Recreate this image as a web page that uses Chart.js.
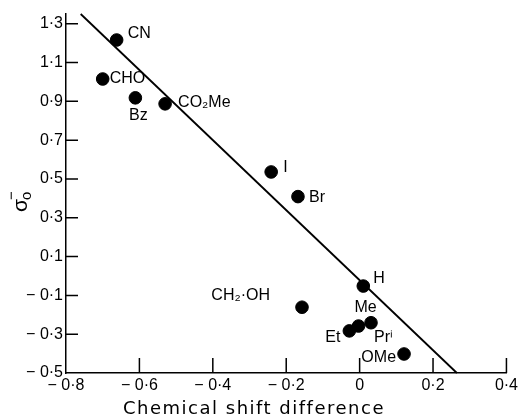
<!DOCTYPE html>
<html>
<head>
<meta charset="utf-8">
<script src="https://cdn.jsdelivr.net/npm/chart.js@4"></script>
<style>
  html, body { margin: 0; padding: 0; background: #fff; }
  #wrap { width: 521px; height: 420px; }
</style>
</head>
<body>
<div id="wrap"><canvas id="sigmaChart"></canvas></div>
<script>
// substituents and measured values
const names = ['CN', 'CHO', 'Bz', 'CO₂Me', 'I', 'Br', 'H', 'CH₂·OH', 'Me', 'Et', 'Prⁱ', 'OMe'];
const shiftDiff = [-0.662, -0.70, -0.611, -0.530, -0.241, -0.168, 0.010, -0.157, -0.003, -0.028, 0.031, 0.121];
const sigmaVals = [1.216, 1.015, 0.918, 0.887, 0.536, 0.409, -0.052, -0.161, -0.258, -0.283, -0.241, -0.402];

// fitted line end points
const fitX = [-0.76, 0.265];
const fitY = [1.35, -0.5];

// axis ticks
const xTicks = [-0.8, -0.6, -0.4, -0.2, 0, 0.2, 0.4];
const yTicks = [-0.5, -0.3, -0.1, 0.1, 0.3, 0.5, 0.7, 0.9, 1.1, 1.3];

// label placement relative to each dot (px): dx, dy, align
const labelPos = [
    [11, -6, 'left'], [7, 0, 'left'], [3, 18, 'center'], [13, -1, 'left'],
    [12, -4, 'left'], [11, 1, 'left'], [10, -7, 'left'], [-32, -12, 'right'],
    [7, -18, 'center'], [-9, 7, 'right'], [3, 15, 'left'], [-8, 4, 'right']
];

function fmt(v) {
    if (v === 0) return '0';
    const s = Math.abs(v).toFixed(1).replace('.', '·');
    return v < 0 ? '− ' + s : s;
}

const extras = {
    id: 'extras',
    afterDraw(chart) {
        const ctx = chart.ctx;
        const xs = chart.scales.x, ys = chart.scales.y;
        const area = chart.chartArea;
        ctx.save();
        ctx.strokeStyle = '#000';
        ctx.lineWidth = 1.5;
        // inward ticks
        ctx.beginPath();
        xTicks.forEach(v => {
            if (v === xTicks[0]) return;
            const px = xs.getPixelForValue(v);
            ctx.moveTo(px, area.bottom);
            ctx.lineTo(px, area.bottom - 15);
        });
        yTicks.forEach(v => {
            if (v === yTicks[0]) return;
            const py = ys.getPixelForValue(v);
            ctx.moveTo(area.left, py);
            ctx.lineTo(area.left + 12, py);
        });
        ctx.stroke();

        // point labels
        ctx.fillStyle = '#000';
        ctx.font = '16px "Liberation Sans"';
        ctx.textBaseline = 'middle';
        names.forEach((n, i) => {
            const px = xs.getPixelForValue(shiftDiff[i]);
            const py = ys.getPixelForValue(sigmaVals[i]);
            const p = labelPos[i];
            ctx.textAlign = p[2];
            ctx.fillText(n, px + p[0], py + p[1]);
        });

        // x title
        ctx.textAlign = 'center';
        ctx.textBaseline = 'alphabetic';
        ctx.font = '18px "DejaVu Sans"';
        ctx.letterSpacing = '1.5px';
        ctx.fillText('Chemical shift difference', 254, 414);
        ctx.letterSpacing = '0px';

        // y title: sigma with sub o and super minus, rotated
        ctx.translate(27, 212);
        ctx.rotate(-Math.PI / 2);
        ctx.textAlign = 'left';
        ctx.font = '21px "Liberation Sans"';
        ctx.fillText('σ', 0, 0);
        ctx.font = '15px "Liberation Sans"';
        ctx.fillText('o', 12, 4);
        ctx.fillText('−', 12, -11);
        ctx.restore();
    }
};

const ctx = document.getElementById('sigmaChart').getContext('2d');

const sigmaChart = new Chart(ctx, {
    type: 'scatter',
    data: {
        datasets: [{
            label: 'fit',
            type: 'line',
            data: fitX.map((x, i) => ({ x: x, y: fitY[i] })),
            borderColor: '#000',
            borderWidth: 1.8,
            pointRadius: 0,
            fill: false,
            clip: false
        }, {
            label: 'substituents',
            data: shiftDiff.map((x, i) => ({ x: x, y: sigmaVals[i] })),
            backgroundColor: '#000',
            borderColor: '#000',
            pointRadius: 6.3,
            pointHoverRadius: 6.3
        }]
    },
    options: {
        responsive: true,
        maintainAspectRatio: false,
        animation: false,
        events: [],
        layout: { padding: { left: 0, top: 14, right: 11, bottom: 0 } },
        plugins: {
            legend: { display: false },
            tooltip: { enabled: false }
        },
        scales: {
            x: {
                type: 'linear',
                min: -0.8,
                max: 0.4,
                afterFit: s => { s.height = 47; },
                afterBuildTicks: s => { s.ticks = xTicks.map(v => ({ value: v })); },
                grid: { display: false, drawTicks: false },
                border: { display: true, color: '#000', width: 1.5 },
                ticks: {
                    padding: 3,
                    color: '#000',
                    font: { family: 'Liberation Sans', size: 16 },
                    maxRotation: 0,
                    callback: v => fmt(v)
                }
            },
            y: {
                type: 'linear',
                min: -0.5,
                max: 1.35,
                afterFit: s => { s.width = 66; },
                afterBuildTicks: s => { s.ticks = yTicks.map(v => ({ value: v })); },
                grid: { display: false, drawTicks: false },
                border: { display: true, color: '#000', width: 1.5 },
                ticks: {
                    padding: 3,
                    color: '#000',
                    font: { family: 'Liberation Sans', size: 16 },
                    callback: v => fmt(v)
                }
            }
        }
    },
    plugins: [extras]
});
</script>
</body>
</html>
